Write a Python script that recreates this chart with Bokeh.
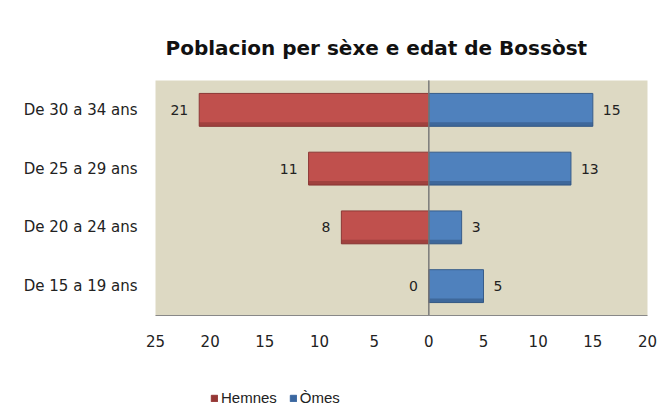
from bokeh.plotting import figure
from bokeh.layouts import column
from bokeh.models import ColumnDataSource, FixedTicker, Legend, LegendItem
from bokeh.core.properties import value
from bokeh.transform import dodge
from bokeh.embed import file_html
from bokeh.resources import INLINE

categories = ["De 30 a 34 ans", "De 25 a 29 ans", "De 20 a 24 ans", "De 15 a 19 ans"]
hemnes = [21, 11, 8, 0]
omes = [15, 13, 3, 5]
tick_values = [-25, -20, -15, -10, -5, 0, 5, 10, 15, 20]
tick_labels = ["25", "20", "15", "10", "5", "0", "5", "10", "15", "20"]
series_names = ["Hemnes", "Òmes"]
title_text = "Poblacion per sèxe e edat de Bossòst"

FONT = "DejaVu Sans"
RED = "#C0504D"
BLUE = "#4F81BD"

src = ColumnDataSource(dict(
    cat=categories,
    h=[-v for v in hemnes],
    o=omes,
    hl=[str(v) for v in hemnes],
    ol=[str(v) for v in omes],
))

p = figure(width=662, height=385, y_range=list(reversed(categories)),
           x_range=(-25, 20), output_backend="svg", toolbar_location=None,
           min_border_left=155, min_border_right=15, min_border_top=80, min_border_bottom=70)
p.background_fill_color = "#DDD9C3"
p.border_fill_color = "white"
p.outline_line_color = None
p.grid.visible = False

p.title.text = title_text
p.title.align = "left"
p.title.offset = 10
p.title.standoff = 41
p.title.text_font = FONT
p.title.text_font_style = "bold"
p.title.text_font_size = "20px"
p.title.text_color = "#111111"

p.hbar(y="cat", left="h", right=0, height=0.56, source=src,
       fill_color=RED, line_color="#8C3836", line_width=1)
p.hbar(y="cat", left=0, right="o", height=0.56, source=src,
       fill_color=BLUE, line_color="#385D8A", line_width=1)
# darker lower edge for the bevelled look
p.hbar(y=dodge("cat", -0.245, range=p.y_range), left="h", right=0, height=0.07, source=src,
       fill_color="#7A2E2C", fill_alpha=0.45, line_color=None)
p.hbar(y=dodge("cat", -0.245, range=p.y_range), left=0, right="o", height=0.07, source=src,
       fill_color="#2A4A72", fill_alpha=0.45, line_color=None)

p.text(x="h", y="cat", text="hl", source=src, text_align="right", text_baseline="middle",
       x_offset=-11, text_font=value(FONT), text_font_size="14px", text_color="#222222")
p.text(x="o", y="cat", text="ol", source=src, text_align="left", text_baseline="middle",
       x_offset=10, text_font=value(FONT), text_font_size="14px", text_color="#222222")

p.ray(x=[0], y=[-0.5], length=0, angle=1.5708, line_color="#777777", line_width=1)
p.ray(x=[0], y=[0], length=0, angle=1.5708, line_color="#777777", line_width=1)

p.xaxis.ticker = FixedTicker(ticks=tick_values)
p.xaxis.major_label_overrides = {t: l for t, l in zip(tick_values, tick_labels)}
p.xaxis.major_tick_line_color = None
p.xaxis.minor_tick_line_color = None
p.xaxis.axis_line_color = "#888888"
p.xaxis.major_label_standoff = 13
p.xaxis.major_label_text_font = FONT
p.xaxis.major_label_text_font_size = "15px"
p.xaxis.major_label_text_color = "#222222"

p.yaxis.major_tick_line_color = None
p.yaxis.minor_tick_line_color = None
p.yaxis.axis_line_color = None
p.yaxis.major_label_standoff = 12
p.yaxis.major_label_text_font = FONT
p.yaxis.major_label_text_font_size = "15px"
p.yaxis.major_label_text_color = "#222222"

# legend strip below the chart (frame aligned with the chart's frame)
p2 = figure(width=662, height=24, x_range=(10, 11), y_range=(10, 11), output_backend="svg",
            toolbar_location=None, min_border=0)
p2.axis.visible = False
p2.grid.visible = False
p2.outline_line_color = None
lh = p2.rect(x=[0], y=[0], width=1, height=1, fill_color="#953735", line_color="#953735")
lo = p2.rect(x=[0], y=[0], width=1, height=1, fill_color="#3A67A0", line_color="#3A67A0")
legend = Legend(items=[LegendItem(label=series_names[0], renderers=[lh]),
                       LegendItem(label=series_names[1], renderers=[lo])],
                orientation="horizontal", location=(55, 3),
                label_text_font="Liberation Sans", label_text_font_size="15px",
                label_text_color="#222222",
                glyph_width=8, glyph_height=8, spacing=12, label_standoff=3,
                padding=0, margin=0, label_height=14,
                background_fill_alpha=0, border_line_color=None)
p2.add_layout(legend)

open("out.html", "w").write(file_html(column(p, p2, spacing=0), INLINE))
